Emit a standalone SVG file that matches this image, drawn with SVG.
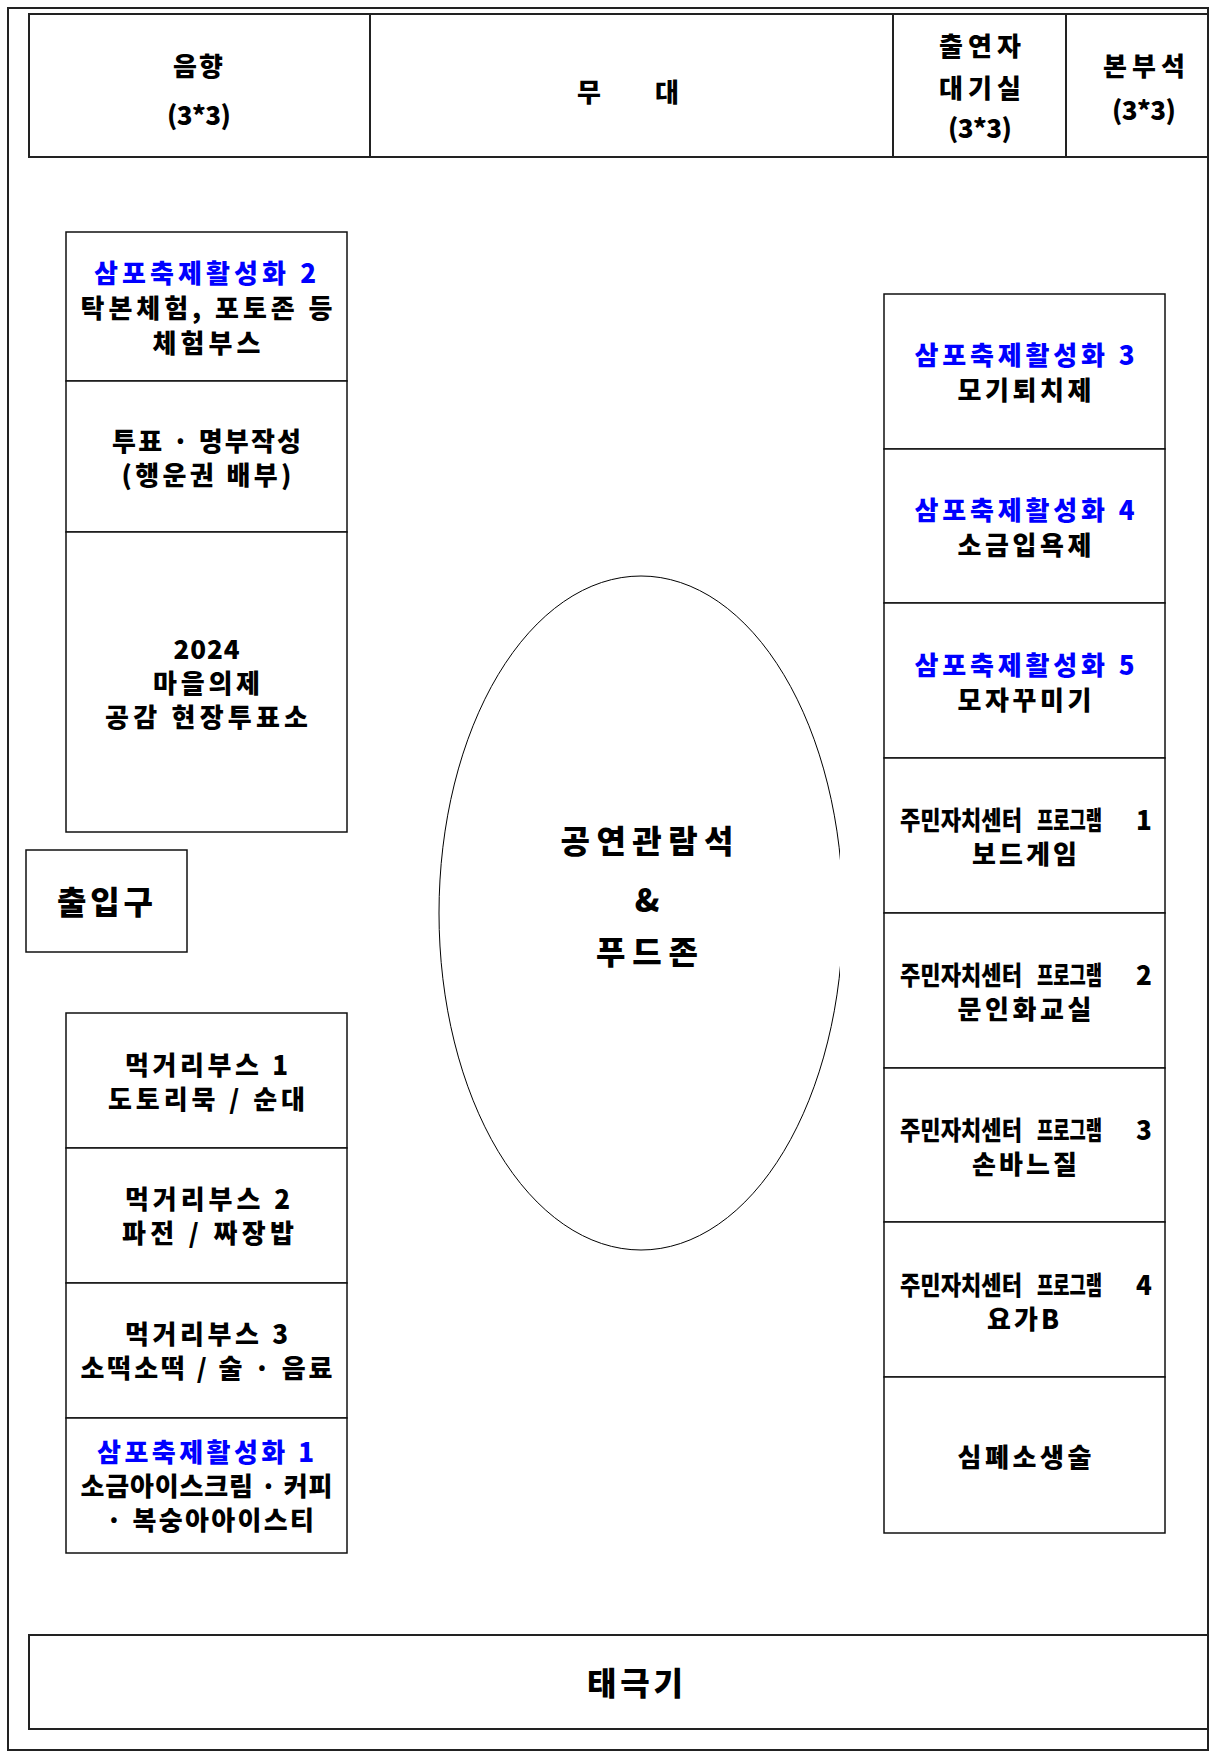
<svg xmlns="http://www.w3.org/2000/svg" width="1211" height="1752" viewBox="0 0 1211 1752">
<style>
.frame{fill:none;stroke:#222;stroke-width:2}
.box{fill:#fff;stroke:#111;stroke-width:1.5}
.hdr{fill:#fff;stroke:#222;stroke-width:2}
.t{font-family:"Noto Sans CJK KR","Noto Sans",sans-serif;font-weight:900;font-size:26px;text-anchor:middle;fill:#000}
.s{text-anchor:start}
.b{fill:#0000ff}
.big{font-size:32px}
.oval{fill:none;stroke:#000;stroke-width:1}
</style>
<defs>
<clipPath id="ovalClip"><rect x="0" y="0" width="840" height="1752"/></clipPath>
</defs>
<rect width="1211" height="1752" fill="#fff"/>
<rect class="frame" x="8" y="8" width="1200" height="1742"/>

<g id="sound">
<rect class="hdr" x="29" y="14" width="341" height="143"/>
<text class="t" x="198" y="76" textLength="50" lengthAdjust="spacing">음향</text>
<text class="t" x="199" y="125" textLength="64" lengthAdjust="spacing">(3*3)</text>
</g>
<g id="stage">
<rect class="hdr" x="370" y="14" width="523" height="143"/>
<text class="t" x="628" y="102" textLength="102" lengthAdjust="spacing">무 대</text>
</g>
<g id="waiting-room">
<rect class="hdr" x="893" y="14" width="173" height="143"/>
<text class="t" x="980" y="56" textLength="82" lengthAdjust="spacing">출연자</text>
<text class="t" x="980" y="98" textLength="82" lengthAdjust="spacing">대기실</text>
<text class="t" x="980" y="138" textLength="64" lengthAdjust="spacing">(3*3)</text>
</g>
<g id="hq">
<rect class="hdr" x="1066" y="14" width="142" height="143"/>
<text class="t" x="1144" y="76" textLength="82" lengthAdjust="spacing">본부석</text>
<text class="t" x="1144" y="120" textLength="64" lengthAdjust="spacing">(3*3)</text>
</g>

<g id="left-booth-experience">
<rect class="box" x="66" y="232" width="281" height="149"/>
<text class="t b" x="205" y="283" textLength="222" lengthAdjust="spacing">삼포축제활성화 2</text>
<text class="t" x="206.5" y="318" textLength="252" lengthAdjust="spacing">탁본체험, 포토존 등</text>
<text class="t" x="206.5" y="353" textLength="108" lengthAdjust="spacing">체험부스</text>
</g>
<g id="left-booth-vote">
<rect class="box" x="66" y="381" width="281" height="151"/>
<text class="t" x="206.5" y="451" textLength="189" lengthAdjust="spacing">투표 · 명부작성</text>
<text class="t" x="206.5" y="485" textLength="170" lengthAdjust="spacing">(행운권 배부)</text>
</g>
<g id="left-booth-polling">
<rect class="box" x="66" y="532" width="281" height="300"/>
<text class="t" x="206.5" y="659" textLength="66" lengthAdjust="spacing">2024</text>
<text class="t" x="206.5" y="693" textLength="107" lengthAdjust="spacing">마을의제</text>
<text class="t" x="206.5" y="727" textLength="203" lengthAdjust="spacing">공감 현장투표소</text>
</g>

<g id="entrance">
<rect class="box" x="26" y="850" width="161" height="102"/>
<text class="t big" x="105" y="914" textLength="96" lengthAdjust="spacing">출입구</text>
</g>

<g id="food-booth-1">
<rect class="box" x="66" y="1013" width="281" height="135"/>
<text class="t" x="206.5" y="1075" textLength="163" lengthAdjust="spacing">먹거리부스 1</text>
<text class="t" x="206.5" y="1109" textLength="197" lengthAdjust="spacing">도토리묵 / 순대</text>
</g>
<g id="food-booth-2">
<rect class="box" x="66" y="1148" width="281" height="135"/>
<text class="t" x="207.5" y="1209" textLength="165" lengthAdjust="spacing">먹거리부스 2</text>
<text class="t" x="208" y="1243" textLength="172" lengthAdjust="spacing">파전 / 짜장밥</text>
</g>
<g id="food-booth-3">
<rect class="box" x="66" y="1283" width="281" height="135"/>
<text class="t" x="206.5" y="1344" textLength="163" lengthAdjust="spacing">먹거리부스 3</text>
<text class="t" x="206.5" y="1378" textLength="252" lengthAdjust="spacing">소떡소떡 / 술 · 음료</text>
</g>
<g id="festival-booth-1">
<rect class="box" x="66" y="1418" width="281" height="135"/>
<text class="t b" x="205.5" y="1462" textLength="217" lengthAdjust="spacing">삼포축제활성화 1</text>
<text class="t" x="206.5" y="1496" textLength="252" lengthAdjust="spacing">소금아이스크림 · 커피</text>
<text class="t" x="210" y="1530" textLength="208" lengthAdjust="spacing">· 복숭아아이스티</text>
</g>

<g id="audience-foodzone">
<ellipse class="oval" cx="641" cy="913" rx="202" ry="337" clip-path="url(#ovalClip)"/>
<text class="t big" x="647" y="853" textLength="173" lengthAdjust="spacing">공연관람석</text>
<text class="t big" x="647" y="912">&amp;</text>
<text class="t big" x="647" y="964" textLength="102" lengthAdjust="spacing">푸드존</text>
</g>

<g id="festival-booth-3">
<rect class="box" x="884" y="294" width="281" height="155"/>
<text class="t b" x="1024.5" y="365" textLength="220" lengthAdjust="spacing">삼포축제활성화 3</text>
<text class="t" x="1024.5" y="400" textLength="134" lengthAdjust="spacing">모기퇴치제</text>
</g>
<g id="festival-booth-4">
<rect class="box" x="884" y="449" width="281" height="154"/>
<text class="t b" x="1024.5" y="520" textLength="220" lengthAdjust="spacing">삼포축제활성화 4</text>
<text class="t" x="1024.5" y="555" textLength="134" lengthAdjust="spacing">소금입욕제</text>
</g>
<g id="festival-booth-5">
<rect class="box" x="884" y="603" width="281" height="155"/>
<text class="t b" x="1024.5" y="675" textLength="220" lengthAdjust="spacing">삼포축제활성화 5</text>
<text class="t" x="1024.5" y="710" textLength="134" lengthAdjust="spacing">모자꾸미기</text>
</g>
<g id="center-program-1">
<rect class="box" x="884" y="758" width="281" height="155"/>
<text class="t s" y="830"><tspan x="900" textLength="122" lengthAdjust="spacingAndGlyphs">주민자치센터</tspan> <tspan x="1037" textLength="65" lengthAdjust="spacingAndGlyphs">프로그램</tspan> <tspan x="1136">1</tspan></text>
<text class="t" x="1024.5" y="864" textLength="105" lengthAdjust="spacing">보드게임</text>
</g>
<g id="center-program-2">
<rect class="box" x="884" y="913" width="281" height="155"/>
<text class="t s" y="985"><tspan x="900" textLength="122" lengthAdjust="spacingAndGlyphs">주민자치센터</tspan> <tspan x="1037" textLength="65" lengthAdjust="spacingAndGlyphs">프로그램</tspan> <tspan x="1136">2</tspan></text>
<text class="t" x="1024.5" y="1019" textLength="134" lengthAdjust="spacing">문인화교실</text>
</g>
<g id="center-program-3">
<rect class="box" x="884" y="1068" width="281" height="154"/>
<text class="t s" y="1140"><tspan x="900" textLength="122" lengthAdjust="spacingAndGlyphs">주민자치센터</tspan> <tspan x="1037" textLength="65" lengthAdjust="spacingAndGlyphs">프로그램</tspan> <tspan x="1136">3</tspan></text>
<text class="t" x="1024.5" y="1174" textLength="105" lengthAdjust="spacing">손바느질</text>
</g>
<g id="center-program-4">
<rect class="box" x="884" y="1222" width="281" height="155"/>
<text class="t s" y="1295"><tspan x="900" textLength="122" lengthAdjust="spacingAndGlyphs">주민자치센터</tspan> <tspan x="1037" textLength="65" lengthAdjust="spacingAndGlyphs">프로그램</tspan> <tspan x="1136">4</tspan></text>
<text class="t" x="1023" y="1329" textLength="72" lengthAdjust="spacing">요가B</text>
</g>
<g id="cpr">
<rect class="box" x="884" y="1377" width="281" height="156"/>
<text class="t" x="1024.5" y="1467" textLength="134" lengthAdjust="spacing">심폐소생술</text>
</g>

<g id="flag">
<rect class="hdr" x="29" y="1635" width="1179" height="94"/>
<text class="t big" x="635" y="1695" textLength="96" lengthAdjust="spacing">태극기</text>
</g>

<g id="connectors"></g>
</svg>
